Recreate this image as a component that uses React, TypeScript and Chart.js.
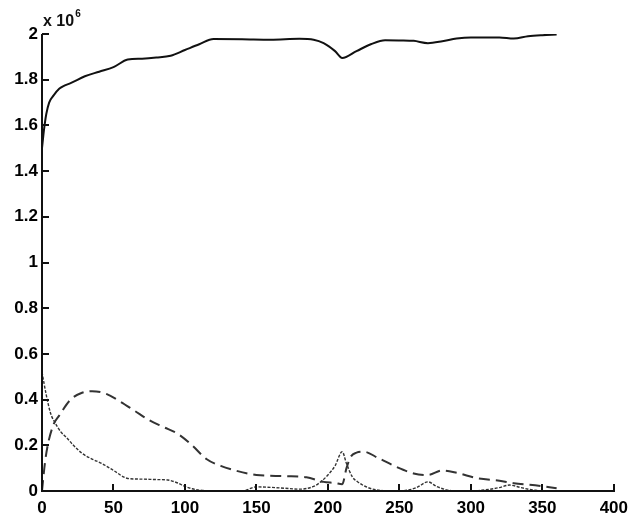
import React, { useEffect, useRef } from "react";
import { Chart, registerables } from "chart.js";

Chart.register(...registerables);

// values in units of 1e6
const mainX = [0, 1, 2, 3, 5, 8, 12, 16, 20, 30, 40, 50, 60, 70, 80, 90, 100, 110, 120, 140, 160, 180, 190, 197, 205, 210, 220, 230, 240, 250, 260, 270, 280, 290, 300, 320, 330, 340, 350, 360];
const mainY = [1.5, 1.56, 1.61, 1.65, 1.7, 1.73, 1.76, 1.775, 1.785, 1.815, 1.835, 1.855, 1.888, 1.892, 1.897, 1.905, 1.93, 1.955, 1.978, 1.977, 1.975, 1.979, 1.975, 1.96, 1.925, 1.895, 1.925, 1.955, 1.973, 1.972, 1.97, 1.96, 1.968, 1.98, 1.985, 1.985, 1.98, 1.99, 1.995, 1.998];

const dashX = [0, 2, 4, 8, 12, 20, 28, 35, 45, 55, 65, 75, 85, 95, 105, 115, 125, 135, 150, 170, 185, 197, 205, 210, 213, 216, 220, 225, 235, 248, 260, 270, 280, 290, 305, 320, 330, 345, 360];
const dashY = [0, 0.12, 0.2, 0.29, 0.33, 0.4, 0.43, 0.437, 0.425, 0.39, 0.35, 0.31, 0.28, 0.25, 0.2, 0.14, 0.11, 0.09, 0.07, 0.065, 0.06, 0.04, 0.035, 0.03, 0.1, 0.15, 0.168, 0.172, 0.145, 0.105, 0.077, 0.07, 0.09, 0.08, 0.055, 0.045, 0.034, 0.025, 0.012];

const thinX = [0, 3, 6, 9, 13, 17, 22, 28, 35, 42, 50, 60, 70, 80, 88, 95, 100, 105, 110, 120, 140, 150, 160, 170, 180, 190, 195, 200, 205, 210, 213, 217, 222, 228, 234, 245, 255, 262, 270, 276, 283, 290, 300, 310, 320, 327, 335, 345, 360];
const thinY = [0.52, 0.42, 0.34, 0.3, 0.26, 0.235, 0.2, 0.165, 0.14, 0.12, 0.09, 0.055, 0.052, 0.05, 0.048, 0.035, 0.02, 0.01, 0.004, 0, 0, 0.018, 0.016, 0.012, 0.008, 0.02, 0.04, 0.07, 0.11, 0.172, 0.12, 0.063, 0.035, 0.015, 0.005, 0, 0.003, 0.015, 0.04, 0.02, 0.005, 0, 0, 0.005, 0.015, 0.026, 0.015, 0.003, 0];

const xTicks = [0, 50, 100, 150, 200, 250, 300, 350, 400];
const yTicks = [0, 0.2, 0.4, 0.6, 0.8, 1, 1.2, 1.4, 1.6, 1.8, 2];
const scaleLabel = "x 10";
const scaleExp = "6";

const FONT = "'Liberation Sans', Arial, sans-serif";

const zip = (xs: number[], ys: number[]) => xs.map((x, i) => ({ x, y: ys[i] }));

const innerTicks = {
  id: "innerTicks",
  afterDraw(chart: any) {
    const ctx = chart.ctx;
    const area = chart.chartArea;
    const sx = chart.scales.x;
    const sy = chart.scales.y;
    ctx.save();
    ctx.setLineDash([]);
    ctx.globalAlpha = 1;
    ctx.globalCompositeOperation = "source-over";
    ctx.fillStyle = "#111";
    const L = Math.round(area.left);
    const B = Math.round(area.bottom);
    const T = Math.round(area.top);
    const R = Math.round(area.right);
    // axis lines
    ctx.fillRect(L - 1, T, 2, B - T + 1);
    ctx.fillRect(L - 1, B - 1, R - L + 2, 2);
    xTicks.forEach((t) => {
      const px = Math.round(sx.getPixelForValue(t));
      ctx.fillRect(px - 1, B - 7, 2, 7);
    });
    yTicks.forEach((t) => {
      const py = Math.round(sy.getPixelForValue(t));
      ctx.fillRect(L, py - 1, 7, 2);
    });
    // multiplier label
    ctx.font = `bold 16px ${FONT}`;
    ctx.textBaseline = "alphabetic";
    ctx.textAlign = "left";
    const bx = area.left + 1;
    const by = area.top - 8;
    ctx.fillText(scaleLabel, bx, by);
    const w = ctx.measureText(scaleLabel).width;
    ctx.font = `bold 10px ${FONT}`;
    ctx.fillText(scaleExp, bx + w + 1, by - 9);
    ctx.restore();
  },
};

export default function App() {
  const ref = useRef<HTMLCanvasElement>(null);
  useEffect(() => {
    if (!ref.current) return;
    const chart = new Chart(ref.current, {
      type: "line",
      data: {
        datasets: [
          {
            data: zip(mainX, mainY),
            borderColor: "#111",
            borderWidth: 2,
            pointRadius: 0,
            cubicInterpolationMode: "monotone",
          },
          {
            data: zip(dashX, dashY),
            borderColor: "#333",
            borderWidth: 2,
            borderDash: [11, 6],
            pointRadius: 0,
            cubicInterpolationMode: "monotone",
          },
          {
            data: zip(thinX, thinY),
            borderColor: "#333",
            borderWidth: 1.4,
            borderDash: [3, 1.5],
            pointRadius: 0,
            cubicInterpolationMode: "monotone",
          },
        ],
      },
      plugins: [innerTicks],
      options: {
        animation: false,
        responsive: false,
        maintainAspectRatio: false,
        layout: { padding: { top: 34, right: 15, left: 0, bottom: 0 } },
        plugins: { legend: { display: false }, tooltip: { enabled: false } },
        scales: {
          x: {
            type: "linear",
            min: 0,
            max: 400,
            border: { display: false },
            grid: { display: false, drawTicks: false },
            afterBuildTicks: (s: any) => {
              s.ticks = xTicks.map((v) => ({ value: v }));
            },
            afterFit: (s: any) => {
              s.height = 30;
            },
            ticks: {
              padding: 7,
              color: "#000",
              font: { family: FONT, size: 17, weight: "bold" },
              maxRotation: 0,
              autoSkip: false,
              callback: (v: any) => String(v),
            },
          },
          y: {
            type: "linear",
            min: 0,
            max: 2,
            border: { display: false },
            grid: { display: false, drawTicks: false },
            afterBuildTicks: (s: any) => {
              s.ticks = yTicks.map((v) => ({ value: v }));
            },
            afterFit: (s: any) => {
              s.width = 42;
            },
            ticks: {
              padding: 4,
              color: "#000",
              font: { family: FONT, size: 17, weight: "bold" },
              autoSkip: false,
              callback: (v: any) => String(Math.round(v * 10) / 10),
            },
          },
        },
      },
    });
    return () => chart.destroy();
  }, []);
  return (
    <div style={{ position: "fixed", left: 0, top: 0, width: 635, height: 521, background: "#fff" }}>
      <canvas ref={ref} width={635} height={521} style={{ width: 635, height: 521 }} />
    </div>
  );
}
